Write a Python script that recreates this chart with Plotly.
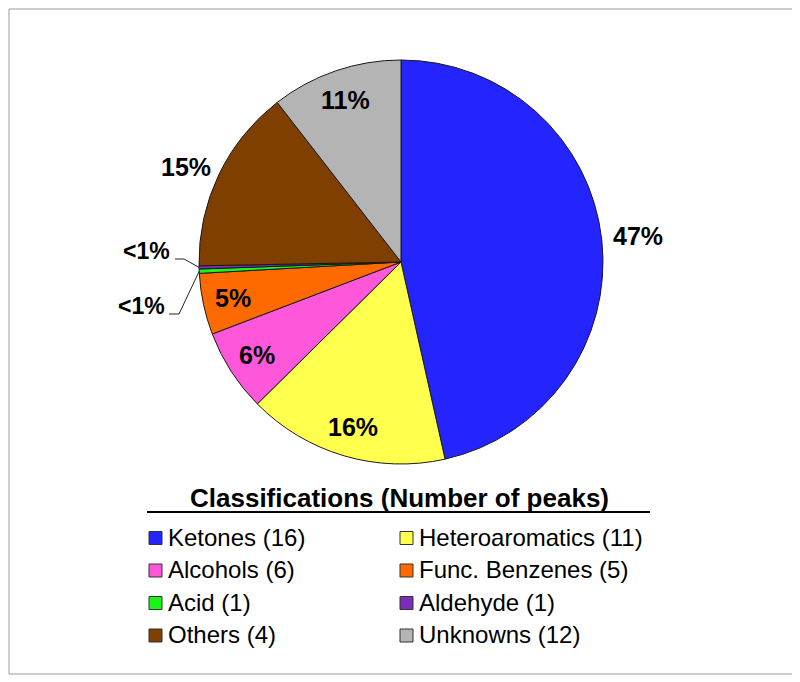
"""
Pie chart of peak classifications (share of total) with a two-column legend.
"""

import math
import plotly.graph_objects as go

# data
categories = ["Ketones", "Heteroaromatics", "Alcohols", "Func. Benzenes",
              "Acid", "Aldehyde", "Others", "Unknowns"]
peak_counts = [16, 11, 6, 5, 1, 1, 4, 12]
shares = [46.5, 16.1, 6.6, 4.9, 0.35, 0.25, 14.8, 10.5]
pct_labels = ["47%", "16%", "6%", "5%", "<1%", "<1%", "15%", "11%"]
label_mode = ["outside", "inside", "inside", "inside", "leader", "leader", "outside", "inside"]
colors = ["#2424FF", "#FFFF4D", "#FF57D9", "#FF6A00",
          "#19F519", "#7A2FB8", "#7F3F00", "#B4B4B4"]

# the page body has an 8px margin, so the figure is drawn 8px in and smaller
OFF = 8
W, H = 800 - OFF, 682 - OFF
FONT = "Liberation Sans, Arial, sans-serif"

# pie geometry in page pixels
cx, cy, R = 401, 262, 202


def px(x, y):
    return (x - OFF) / W, 1 - (y - OFF) / H


x_lo, y_hi = px(cx - R, cy - R)
x_hi, y_lo = px(cx + R, cy + R)

fig = go.Figure(go.Pie(
    labels=categories,
    values=shares,
    sort=False,
    direction="clockwise",
    rotation=0,
    marker=dict(colors=colors, line=dict(color="#1a1a1a", width=1)),
    textinfo="none",
    hoverinfo="label+percent",
    showlegend=False,
    domain=dict(x=[x_lo, x_hi], y=[y_lo, y_hi]),
))

annotations = []
shapes = []


def label(x, y, text, size, xanchor="center", bold=False):
    ax, ay = px(x, y)
    annotations.append(dict(x=ax, y=ay, xref="paper", yref="paper",
                            text=f"<b>{text}</b>" if bold else text,
                            xanchor=xanchor, yanchor="middle", showarrow=False,
                            font=dict(family=FONT, size=size, color="black")))


# slice bisector angles, clockwise from 12 o'clock
total = sum(shares)
cum = 0
mids = []
for v in shares:
    mids.append((cum + v / 2) / total * 2 * math.pi)
    cum += v

# leader label spots: text right edge, line start, elbow x
leader_spots = {5: (172, 251, 175, 259, 184), 4: (167, 306, 169, 314, 179)}

for i, (lab, mode) in enumerate(zip(pct_labels, label_mode)):
    th = mids[i]
    if mode in ("inside", "outside"):
        r = R * (0.85 if mode == "inside" else 1.18)
        x, y = cx + r * math.sin(th), cy - r * math.cos(th)
        if mode == "outside" and math.sin(th) < 0:
            y += 8  # left-side outside labels sit a little lower
        label(x, y, lab, 25, bold=True)
    else:
        tx, ty, lx, ly, ex = leader_spots[i]
        label(tx, ty, lab, 23, xanchor="right", bold=True)
        rx, ry = cx + R * math.sin(th), cy - R * math.cos(th)
        pts = [px(lx, ly), px(ex, ly), px(rx, ry)]
        path = "M {} {} L {} {} L {} {}".format(*[c for pt in pts for c in pt])
        shapes.append(dict(type="path", xref="paper", yref="paper", path=path,
                           line=dict(color="#222", width=1)))

# legend title + underline
label(399, 498, "Classifications (Number of peaks)", 26, bold=True)
x0, y0 = px(147, 512)
x1, _ = px(650, 512)
shapes.append(dict(type="line", xref="paper", yref="paper", x0=x0, x1=x1, y0=y0, y1=y0,
                   line=dict(color="black", width=2)))

# two-column legend
col_x = [149, 400]
row_y = [538, 570.5, 603, 635.5]
for i, (name, n, c) in enumerate(zip(categories, peak_counts, colors)):
    sx, sy = col_x[i % 2], row_y[i // 2]
    a0, b0 = px(sx, sy + 6.5)
    a1, b1 = px(sx + 13, sy - 6.5)
    shapes.append(dict(type="rect", xref="paper", yref="paper", x0=a0, x1=a1, y0=b0, y1=b1,
                       fillcolor=c, line=dict(color="#333", width=1)))
    label(sx + 17, sy - 1, f"{name} ({n})", 24, xanchor="left")

# outer frame
f0x, f0y = px(9, 9)
f1x, f1y = px(794, 674)
shapes.append(dict(type="rect", xref="paper", yref="paper", x0=f0x, x1=f1x, y0=f1y, y1=f0y,
                   line=dict(color="#9a9a9a", width=1)))

fig.update_layout(
    width=W, height=H,
    margin=dict(l=0, r=0, t=0, b=0),
    paper_bgcolor="white",
    plot_bgcolor="white",
    annotations=annotations,
    shapes=shapes,
)

fig.write_html("out.html")
